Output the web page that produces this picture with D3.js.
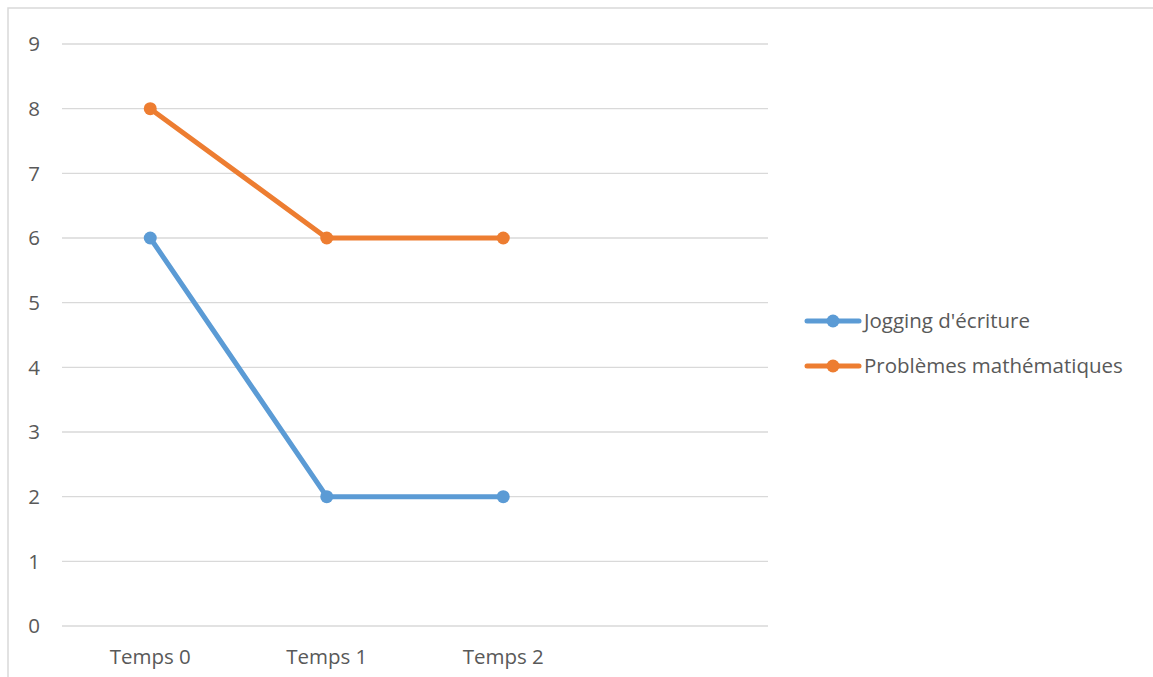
<!DOCTYPE html>
<html><head><meta charset="utf-8">
<script src="https://cdn.jsdelivr.net/npm/d3@7"></script>
<style>body{margin:0;background:#fff}svg{display:block}text{font-family:"Open Sans","Liberation Sans",sans-serif;fill:#595959}</style>
</head><body><svg id="c" width="1153" height="677"></svg>
<script>
const categories = ["Temps 0", "Temps 1", "Temps 2", ""];
const seriesNames = ["Jogging d'écriture", "Problèmes mathématiques"];
const jogging = [6, 2, 2];
const problemes = [8, 6, 6];
const seriesColors = ["#5b9bd5", "#ed7d31"];
const yTicks = [0,1,2,3,4,5,6,7,8,9];
const FS = 20.5;

const svg = d3.select("#c");
svg.append("rect").attr("x",8).attr("y",8).attr("width",1160).attr("height",700)
  .attr("fill","none").attr("stroke","#d9d9d9").attr("stroke-width",1.5);

const x = d3.scaleBand().domain(categories).range([62, 768]);
const y = d3.scaleLinear().domain([0, 9]).range([626, 44]);

const g = svg.append("g");
g.selectAll(".grid").data(yTicks).join("line")
  .attr("x1",62).attr("x2",768).attr("y1",d=>y(d)).attr("y2",d=>y(d))
  .attr("stroke","#d9d9d9").attr("stroke-width",1.3);

g.selectAll(".yl").data(yTicks).join("text")
  .attr("x",34).attr("y",d=>y(d)).attr("dy","0.35em").attr("text-anchor","middle")
  .attr("font-size",FS).text(d=>d);

g.selectAll(".xl").data(categories.filter(c=>c)).join("text")
  .attr("x",d=>x(d)+x.bandwidth()/2).attr("y",657).attr("dy","0.35em").attr("text-anchor","middle")
  .attr("font-size",FS).text(d=>d);

const data = [jogging, problemes];
const line = d3.line().x((d,i)=>x(categories[i])+x.bandwidth()/2).y(d=>y(d));
data.forEach((vals, si) => {
  g.append("path").attr("d", line(vals)).attr("fill","none")
    .attr("stroke", seriesColors[si]).attr("stroke-width",5).attr("stroke-linejoin","round").attr("stroke-linecap","round");
  g.selectAll(null).data(vals).join("circle")
    .attr("cx",(d,i)=>x(categories[i])+x.bandwidth()/2).attr("cy",d=>y(d)).attr("r",6.5)
    .attr("fill",seriesColors[si]);
});

const leg = svg.append("g");
seriesNames.forEach((n, i) => {
  const ly = 321 + i*45;
  leg.append("line").attr("x1",807).attr("x2",859).attr("y1",ly).attr("y2",ly)
    .attr("stroke",seriesColors[i]).attr("stroke-width",5).attr("stroke-linecap","round");
  leg.append("circle").attr("cx",833).attr("cy",ly).attr("r",6.5).attr("fill",seriesColors[i]);
  leg.append("text").attr("x",864).attr("y",ly).attr("dy","0.35em").attr("font-size",FS).text(n);
});
</script></body></html>
